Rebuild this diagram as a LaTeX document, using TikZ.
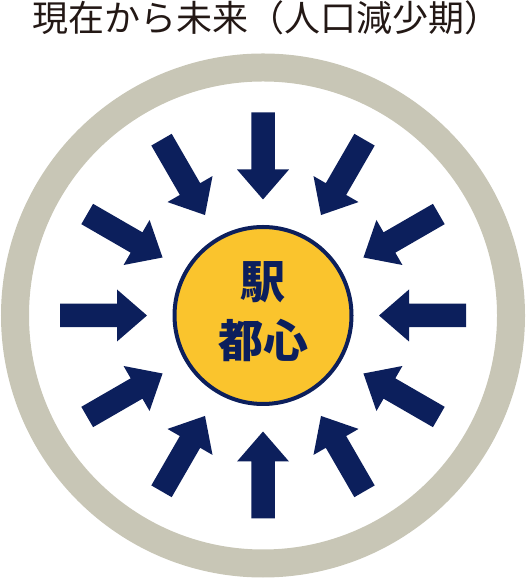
\documentclass[tikz,border=0pt]{standalone}
\usepackage{fontspec}
\newfontfamily\cjk{Noto Sans CJK JP}
\definecolor{navy}{RGB}{12,31,92}
\definecolor{ringgray}{RGB}{200,198,182}
\definecolor{hubyellow}{RGB}{250,196,45}
\definecolor{titleblack}{RGB}{35,24,21}
\tikzset{
  inarrow/.style={fill=navy},
  hubtext/.style={font=\cjk\bfseries\fontsize{45}{45}\selectfont, text=navy, inner sep=0},
}
\begin{document}
\begin{tikzpicture}[x=1pt,y=1pt]
\useasboundingbox (0,0) rectangle (526,580);
\coordinate (c) at (263,264.5);
\draw[ringgray, line width=28pt] (c) circle[radius=248];
\foreach \a in {0,30,...,330} {
  \fill[inarrow, shift={(c)}, rotate=\a] (203,11.75) -- (146,11.75) -- (146,26) -- (116,0) -- (146,-26) -- (146,-11.75) -- (203,-11.75) -- cycle;
}
\node[circle, draw=navy, line width=4pt, fill=hubyellow, minimum size=177pt, inner sep=0] (hub) at (c) {};
\node[hubtext] (eki) at (263,298) {駅};
\node[hubtext] (toshin) at (263,240) {都心};
\node[font=\cjk\fontsize{36}{36}\selectfont, text=titleblack, inner sep=0] (title) at (266,562) {現在から未来（人口減少期）};
\end{tikzpicture}
\end{document}
